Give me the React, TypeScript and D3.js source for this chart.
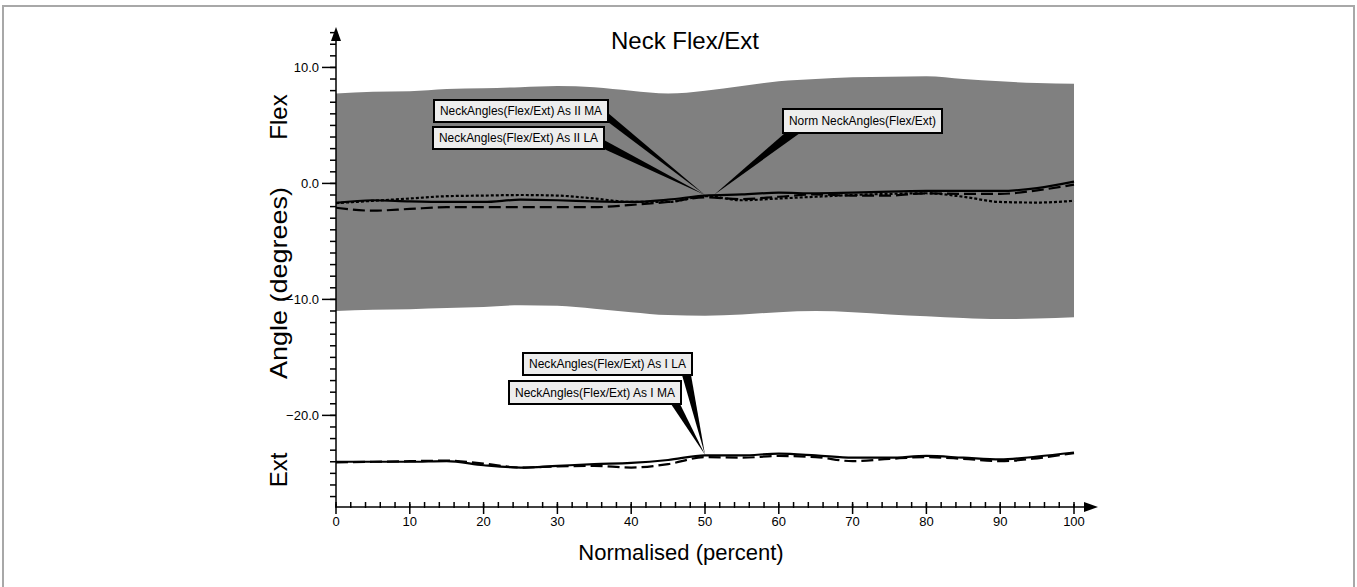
import React from "react";
import * as d3 from "d3";

// percent of cycle where each sample is read
const pct = [0, 5, 10, 15, 20, 25, 30, 35, 40, 45, 50, 55, 60, 65, 70, 75, 80, 85, 90, 95, 100];

// normative band (mean +/- SD)
const normUpper = [7.75, 7.9, 7.95, 8.15, 8.2, 8.3, 8.4, 8.3, 8.0, 7.75, 8.0, 8.4, 8.8, 9.0, 9.15, 9.2, 9.25, 9.0, 8.8, 8.65, 8.6];
const normLower = [-11.0, -10.9, -10.85, -10.75, -10.65, -10.5, -10.55, -10.8, -11.1, -11.35, -11.4, -11.3, -11.1, -11.0, -11.1, -11.3, -11.45, -11.6, -11.7, -11.65, -11.55];

// As II group
const asIIMA = [-1.68, -1.45, -1.55, -1.6, -1.6, -1.4, -1.45, -1.55, -1.6, -1.4, -1.05, -0.95, -0.8, -0.85, -0.8, -0.7, -0.65, -0.65, -0.65, -0.4, 0.15];
const asIILA = [-2.1, -2.35, -2.2, -2.05, -2.05, -2.05, -2.05, -2.05, -1.85, -1.6, -1.2, -1.35, -1.15, -0.95, -1.05, -1.05, -0.85, -0.9, -0.9, -0.6, -0.1];
const normMean = [-1.7, -1.5, -1.3, -1.1, -1.05, -1.0, -1.05, -1.3, -1.6, -1.6, -1.1, -1.45, -1.3, -1.15, -1.0, -0.9, -0.85, -1.15, -1.6, -1.65, -1.5];

// As I group
const asIMA = [-24.0, -24.0, -24.0, -23.95, -24.3, -24.5, -24.35, -24.2, -24.1, -23.85, -23.45, -23.45, -23.3, -23.45, -23.65, -23.65, -23.5, -23.65, -23.8, -23.55, -23.2];
const asILA = [-24.05, -24.0, -23.95, -23.9, -24.15, -24.5, -24.4, -24.35, -24.5, -24.2, -23.6, -23.65, -23.5, -23.6, -23.95, -23.75, -23.6, -23.75, -23.95, -23.7, -23.25];

const xTicks = [0, 10, 20, 30, 40, 50, 60, 70, 80, 90, 100];
const yTicks = [10, 0, -10, -20];

const FONT = "'Liberation Sans', Arial, sans-serif";

// callout boxes: label, box, where the wedge leaves the box, and the data point it points at
const callouts = [
  { label: "NeckAngles(Flex/Ext) As II MA", box: [434, 100, 174, 22], base: [[608, 113], [608, 122]], at: [50, -1.0] },
  { label: "NeckAngles(Flex/Ext) As II LA", box: [433, 127, 171, 22], base: [[604, 140], [604, 149]], at: [50, -1.0] },
  { label: "Norm NeckAngles(Flex/Ext)", box: [783, 109, 159, 24], base: [[785, 133], [800, 133]], at: [51.2, -1.0] },
  { label: "NeckAngles(Flex/Ext) As I LA", box: [523, 353, 169, 22], base: [[682, 375], [691, 375]], at: [50, -23.4] },
  { label: "NeckAngles(Flex/Ext) As I MA", box: [509, 381, 172, 23], base: [[671, 404], [680, 404]], at: [50, -23.4] },
];

export default function App() {
  const x = d3.scaleLinear().domain([0, 100]).range([336, 1074]);
  const y = d3.scaleLinear().domain([-27.9, 13.4]).range([507, 28]);

  const band = d3
    .area<number>()
    .x((_, i) => x(pct[i]))
    .y0((_, i) => y(normLower[i]))
    .y1((_, i) => y(normUpper[i]))
    .curve(d3.curveMonotoneX);

  const line = (vals: number[]) =>
    d3
      .line<number>()
      .x((_, i) => x(pct[i]))
      .y((d) => y(d))
      .curve(d3.curveMonotoneX)(vals) as string;

  const series = [
    { vals: asIILA, dash: "12 5" },
    { vals: normMean, dash: "3 2" },
    { vals: asIIMA, dash: null },
    { vals: asILA, dash: "12 5" },
    { vals: asIMA, dash: null },
  ];

  const yMinor = d3.range(-27, 14, 1);
  const xMinor = d3.range(0, 101, 2);

  return (
    <svg width={1357} height={587} style={{ position: "absolute", left: 0, top: 0, background: "#fff" }}>
      <rect x={3} y={6} width={1351} height={600} fill="none" stroke="#a8a8a8" strokeWidth={2} />

      <text x={611} y={49} fontFamily={FONT} fontSize={24}>Neck Flex/Ext</text>

      <path d={band(pct) as string} fill="#808080" />

      {series.map((s, i) => (
        <path key={i} d={line(s.vals)} fill="none" stroke="#000" strokeWidth={2.2}
          strokeDasharray={s.dash ?? undefined} />
      ))}

      {/* y axis */}
      <line x1={336} x2={336} y1={40} y2={507} stroke="#000" strokeWidth={1.5} />
      <path d="M336,27 L331,41 L341,41 Z" fill="#000" />
      {yMinor.map((v) => (
        <line key={v} x1={330} x2={336} y1={y(v)} y2={y(v)} stroke="#000" strokeWidth={1.5} />
      ))}
      {yTicks.map((v) => (
        <g key={v}>
          <line x1={322} x2={336} y1={y(v)} y2={y(v)} stroke="#000" strokeWidth={1.5} />
          <text x={319} y={y(v) + 4.5} textAnchor="end" fontFamily={FONT} fontSize={13}>
            {d3.format(".1f")(v)}
          </text>
        </g>
      ))}

      {/* x axis */}
      <line x1={336} x2={1086} y1={507} y2={507} stroke="#000" strokeWidth={1.5} />
      <path d="M1098,507 L1084,502 L1084,512 Z" fill="#000" />
      {xMinor.map((v) => (
        <line key={v} x1={x(v)} x2={x(v)} y1={502} y2={508} stroke="#000" strokeWidth={1.5} />
      ))}
      {xTicks.map((v) => (
        <g key={v}>
          <line x1={x(v)} x2={x(v)} y1={504} y2={514} stroke="#000" strokeWidth={1.5} />
          <text x={x(v)} y={526} textAnchor="middle" fontFamily={FONT} fontSize={13}>{v}</text>
        </g>
      ))}

      <text x={681} y={560} textAnchor="middle" fontFamily={FONT} fontSize={22}>Normalised (percent)</text>

      <g fontFamily={FONT} fontSize={24}>
        <text transform="translate(287,117) rotate(-90)" textAnchor="middle">Flex</text>
        <text transform="translate(287,283) rotate(-90)" textAnchor="middle" textLength={192}
          lengthAdjust="spacingAndGlyphs">Angle (degrees)</text>
        <text transform="translate(287,470) rotate(-90)" textAnchor="middle">Ext</text>
      </g>

      {callouts.map((c) => {
        const [bx, by, bw, bh] = c.box;
        const tip = [x(c.at[0]), y(c.at[1])];
        return (
          <g key={c.label}>
            <path d={`M${c.base[0][0]},${c.base[0][1]} L${c.base[1][0]},${c.base[1][1]} L${tip[0]},${tip[1]} Z`} fill="#000" />
            <rect x={bx} y={by} width={bw} height={bh} fill="#ededed" stroke="#000" strokeWidth={2} />
            <text x={bx + bw / 2} y={by + bh / 2 + 4} textAnchor="middle" fontFamily={FONT} fontSize={12}
              textLength={bw - 12} lengthAdjust="spacingAndGlyphs">
              {c.label}
            </text>
          </g>
        );
      })}
    </svg>
  );
}
